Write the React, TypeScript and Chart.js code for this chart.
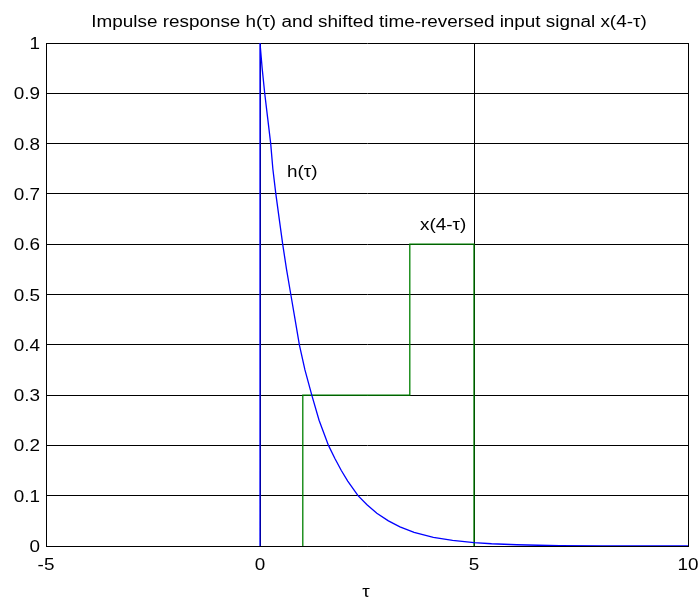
import React, { useEffect, useRef } from "react";
import { Chart, registerables } from "chart.js";

Chart.register(...registerables);

const titleText = "Impulse response h(\u03c4) and shifted time-reversed input signal x(4-\u03c4)";
const xLabel = "\u03c4";

// h(tau)
const hTau = [0, 0, 0.05, 0.11, 0.18, 0.25, 0.3, 0.37, 0.45, 0.53, 0.62, 0.72, 0.82, 0.92, 1.05, 1.21, 1.38, 1.6, 1.75, 1.9, 2.05, 2.29, 2.5, 2.73, 3.0, 3.27, 3.6, 4.05, 4.5, 5, 5.41, 6, 6.5, 7, 8, 9, 10];
const hVal = [0, 1, 0.95, 0.9, 0.85, 0.8, 0.75, 0.7, 0.65, 0.6, 0.55, 0.5, 0.45, 0.4, 0.35, 0.3, 0.25, 0.2, 0.174, 0.15, 0.129, 0.1, 0.082, 0.065, 0.05, 0.038, 0.027, 0.017, 0.011, 0.0067, 0.0045, 0.0025, 0.0015, 0.0009, 0.0003, 0.0001, 0.00005];

// x(4 - tau)
const xTau = [1, 1, 3.5, 3.5, 5, 5];
const xVal = [0, 0.3, 0.3, 0.6, 0.6, 0];

const xTicks = [-5, 0, 5, 10];
const xTickLabels = ["-5", "0", "5", "10"];
const yTicks = [0, 0.1, 0.2, 0.3, 0.4, 0.5, 0.6, 0.7, 0.8, 0.9, 1];
const yTickLabels = ["0", "0.1", "0.2", "0.3", "0.4", "0.5", "0.6", "0.7", "0.8", "0.9", "1"];

const labels = [
  { text: "h(\u03c4)", x: 0.63, y: 0.742 },
  { text: "x(4-\u03c4)", x: 3.74, y: 0.637 },
];

const FONT = "'Liberation Sans', Arial, sans-serif";
const SX = 1.18;

function drawText(ctx: CanvasRenderingContext2D, text: string, x: number, y: number, align: CanvasTextAlign, baseline: CanvasTextBaseline) {
  ctx.save();
  ctx.translate(x, y);
  ctx.scale(SX, 1);
  ctx.textAlign = align;
  ctx.textBaseline = baseline;
  ctx.fillText(text, 0, 0);
  ctx.restore();
}

export default function App() {
  const ref = useRef<HTMLCanvasElement | null>(null);
  useEffect(() => {
    if (!ref.current) return;
    const overlay = {
      id: "overlay",
      afterDraw(chart: any) {
        const ctx = chart.ctx as CanvasRenderingContext2D;
        const xs = chart.scales.x;
        const ys = chart.scales.y;
        const area = chart.chartArea;
        const cx = (area.left + area.right) / 2;
        ctx.save();
        ctx.fillStyle = "#000";
        ctx.font = `16px ${FONT}`;
        drawText(ctx, titleText, cx + 2, 27, "center", "alphabetic");
        drawText(ctx, xLabel, cx - 1, 597, "center", "alphabetic");
        yTicks.forEach((v, i) => {
          drawText(ctx, yTickLabels[i], area.left - 6, ys.getPixelForValue(v) + 6, "right", "alphabetic");
        });
        xTicks.forEach((v, i) => {
          drawText(ctx, xTickLabels[i], xs.getPixelForValue(v), 570, "center", "alphabetic");
        });
        for (const l of labels) {
          drawText(ctx, l.text, xs.getPixelForValue(l.x), ys.getPixelForValue(l.y), "left", "middle");
        }
        ctx.restore();
      },
    };
    const chart = new Chart(ref.current, {
      type: "line",
      data: {
        datasets: [
          {
            label: "h",
            data: hTau.map((t, i) => ({ x: t, y: hVal[i] })),
            borderColor: "#0000ff",
            borderWidth: 1.3,
            pointRadius: 0,
            tension: 0,
            fill: false,
          },
          {
            label: "x",
            data: xTau.map((t, i) => ({ x: t, y: xVal[i] })),
            borderColor: "#008000",
            borderWidth: 1.3,
            pointRadius: 0,
            tension: 0,
            fill: false,
          },
        ],
      },
      options: {
        responsive: false,
        animation: false,
        events: [],
        layout: { padding: { left: 0, right: 11, top: 43, bottom: 0 } },
        plugins: { legend: { display: false }, tooltip: { enabled: false }, title: { display: false } },
        scales: {
          x: {
            type: "linear",
            min: -5,
            max: 10,
            afterBuildTicks: (s: any) => {
              s.ticks = xTicks.map((v) => ({ value: v }));
            },
            afterFit: (s: any) => {
              s.height = 53;
            },
            grid: { color: "#000", lineWidth: 1, drawTicks: false },
            border: { color: "#000", width: 1 },
            ticks: { display: false },
          },
          y: {
            type: "linear",
            min: 0,
            max: 1,
            afterBuildTicks: (s: any) => {
              s.ticks = yTicks.map((v) => ({ value: v }));
            },
            afterFit: (s: any) => {
              s.width = 46;
            },
            grid: { color: "#000", lineWidth: 1, drawTicks: false },
            border: { color: "#000", width: 1 },
            ticks: { display: false },
          },
        },
      },
      plugins: [overlay],
    } as any);
    return () => chart.destroy();
  }, []);
  return (
    <div style={{ position: "fixed", left: 0, top: 0, width: 699, height: 599, background: "#fff" }}>
      <canvas ref={ref} width={699} height={599} style={{ width: 699, height: 599 }} />
    </div>
  );
}
